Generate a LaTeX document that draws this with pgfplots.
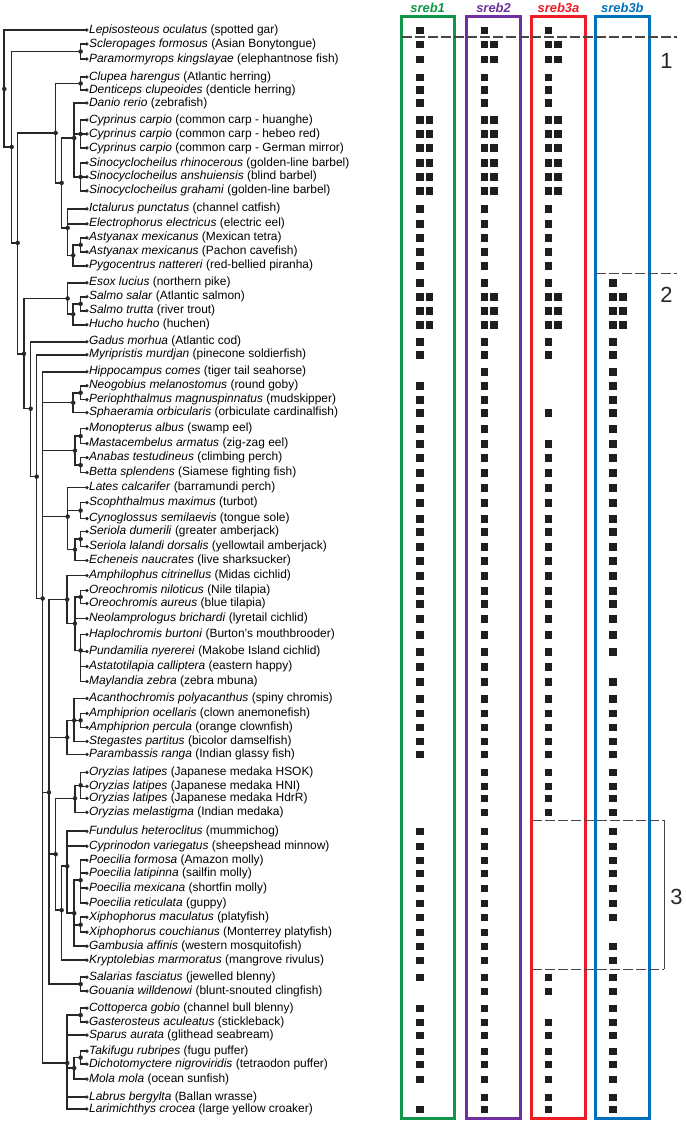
\documentclass[border=0pt]{standalone}
\usepackage{pgfplots}
\pgfplotsset{compat=1.18}
\usepackage{fontspec}
\setmainfont{Liberation Sans}
\definecolor{cg}{RGB}{16,150,72}
\definecolor{cp}{RGB}{112,48,160}
\definecolor{cr}{RGB}{237,28,36}
\definecolor{cb}{RGB}{0,114,188}
\definecolor{trc}{RGB}{40,40,40}
\definecolor{sqc}{RGB}{30,30,30}
\definecolor{dsh}{RGB}{70,70,70}
\newcommand\spx[3]{\node[anchor=west,inner sep=0pt,font=\fontsize{12}{14}\selectfont] at (axis cs:89,#1) {\textit{#2} #3};}
\begin{document}
\begin{tikzpicture}
\begin{axis}[width=685bp,height=1123bp,scale only axis,
  xmin=0,xmax=685,ymin=0,ymax=1123,y dir=reverse,hide axis,clip=false,
  tr/.style={color=trc,line width=1.6bp,line join=miter,mark=none},
  sq/.style={only marks,mark=square*,mark size=3.3bp,color=sqc},
  bx/.style={line width=3bp,line join=miter,mark=none},
  ds/.style={color=dsh,line width=1.1bp,dash pattern=on 10bp off 3bp,mark=none}]
\addplot[draw=none] coordinates {(0,0)(685,1123)};
% ---------- tree ----------
\addplot[tr] coordinates {(87,29)(4.3,29)(4.3,146)(11.7,146)};
\addplot[tr] coordinates {(80.7,50.5)(11.7,50.5)(11.7,242)(17.7,242)};
\addplot[tr] coordinates {(87,43)(80.7,43)(80.7,58)(87,58)};
\addplot[tr] coordinates {(55.7,132)(17.7,132)(17.7,353)(24,353)};
\addplot[tr] coordinates {(80.7,82.5)(55.7,82.5)(55.7,182)(61.7,182)};
\addplot[tr] coordinates {(87,76)(80.7,76)(80.7,89)(87,89)};
\addplot[tr] coordinates {(74.3,137)(61.7,137)(61.7,227)(67.7,227)};
\addplot[tr] coordinates {(87,102)(74.3,102)(74.3,176)(80.7,176)};
\addplot[tr] coordinates {(74.3,133)(80.7,133)};
\addplot[tr] coordinates {(87,119)(80.7,119)(80.7,147)(87,147)};
\addplot[tr] coordinates {(80.7,133)(87,133)};
\addplot[tr] coordinates {(87,162)(80.7,162)(80.7,190)(87,190)};
\addplot[tr] coordinates {(80.7,176)(87,176)};
\addplot[tr] coordinates {(87,208)(67.7,208)(67.7,254.5)(73.3,254.5)};
\addplot[tr] coordinates {(67.7,223)(87,223)};
\addplot[tr] coordinates {(80.7,244)(73.3,244)(73.3,265)(87,265)};
\addplot[tr] coordinates {(87,237)(80.7,237)(80.7,251)(87,251)};
\addplot[tr] coordinates {(67.7,297.7)(24,297.7)(24,408)(30.7,408)};
\addplot[tr] coordinates {(87,282)(67.7,282)(67.7,313.5)(73.3,313.5)};
\addplot[tr] coordinates {(80.7,303)(73.3,303)(73.3,324)(87,324)};
\addplot[tr] coordinates {(87,296)(80.7,296)(80.7,310)(87,310)};
\addplot[tr] coordinates {(87,341)(30.7,341)(30.7,476)(36.7,476)};
\addplot[tr] coordinates {(87,354)(36.7,354)(36.7,598)(42.7,598)};
\addplot[tr] coordinates {(87,371)(42.7,371)(42.7,1063)(67.3,1063)};
\addplot[tr] coordinates {(42.7,402)(73.3,402)};
\addplot[tr] coordinates {(42.7,450)(75,450)};
\addplot[tr] coordinates {(42.7,516)(67.7,516)};
\addplot[tr] coordinates {(42.7,792)(49,792)};
\addplot[tr] coordinates {(80.7,392)(73.3,392)(73.3,412)(87,412)};
\addplot[tr] coordinates {(87,385)(80.7,385)(80.7,399)(87,399)};
\addplot[tr] coordinates {(80.7,435.5)(75,435.5)(75,464.5)(80.7,464.5)};
\addplot[tr] coordinates {(87,428)(80.7,428)(80.7,443)(87,443)};
\addplot[tr] coordinates {(87,457)(80.7,457)(80.7,472)(87,472)};
\addplot[tr] coordinates {(87,487)(67.7,487)(67.7,549)(75,549)};
\addplot[tr] coordinates {(67.7,510)(80.7,510)};
\addplot[tr] coordinates {(87,502)(80.7,502)(80.7,518)(87,518)};
\addplot[tr] coordinates {(80.7,538.5)(75,538.5)(75,560)(87,560)};
\addplot[tr] coordinates {(87,531)(80.7,531)(80.7,546)(87,546)};
\addplot[tr] coordinates {(67.3,599)(49,599)(49,984)(80.7,984)};
\addplot[tr] coordinates {(49,737)(67.3,737)};
\addplot[tr] coordinates {(49,854)(55.7,854)};
\addplot[tr] coordinates {(87,575)(67.3,575)(67.3,623)(75,623)};
\addplot[tr] coordinates {(80.7,596.5)(75,596.5)(75,650)(80.7,650)};
\addplot[tr] coordinates {(75,618)(87,618)};
\addplot[tr] coordinates {(87,590)(80.7,590)(80.7,603)(87,603)};
\addplot[tr] coordinates {(87,634)(80.7,634)(80.7,681)(87,681)};
\addplot[tr] coordinates {(80.7,651)(87,651)};
\addplot[tr] coordinates {(80.7,666)(87,666)};
\addplot[tr] coordinates {(74.3,720)(67.3,720)(67.3,754)(87,754)};
\addplot[tr] coordinates {(87,698)(74.3,698)(74.3,741)(87,741)};
\addplot[tr] coordinates {(74.3,720)(80.7,720)};
\addplot[tr] coordinates {(87,713)(80.7,713)(80.7,727)(87,727)};
\addplot[tr] coordinates {(75,798)(55.7,798)(55.7,910)(61.7,910)};
\addplot[tr] coordinates {(80.7,785)(75,785)(75,812)(87,812)};
\addplot[tr] coordinates {(87,772)(80.7,772)(80.7,798)(87,798)};
\addplot[tr] coordinates {(80.7,786)(87,786)};
\addplot[tr] coordinates {(67.3,866)(61.7,866)(61.7,960)(87,960)};
\addplot[tr] coordinates {(87,831)(67.3,831)(67.3,913)(74.3,913)};
\addplot[tr] coordinates {(67.3,846)(87,846)};
\addplot[tr] coordinates {(80.7,880)(74.3,880)(74.3,946)(87,946)};
\addplot[tr] coordinates {(74.3,924.5)(80.7,924.5)};
\addplot[tr] coordinates {(87,860)(80.7,860)(80.7,903)(87,903)};
\addplot[tr] coordinates {(80.7,873)(87,873)};
\addplot[tr] coordinates {(80.7,888)(87,888)};
\addplot[tr] coordinates {(87,917)(80.7,917)(80.7,932)(87,932)};
\addplot[tr] coordinates {(87,977)(80.7,977)(80.7,991)(87,991)};
\addplot[tr] coordinates {(80.7,1015)(67.3,1015)(67.3,1109)(87,1109)};
\addplot[tr] coordinates {(67.3,1035)(87,1035)};
\addplot[tr] coordinates {(67.3,1068)(74.3,1068)};
\addplot[tr] coordinates {(67.3,1097)(87,1097)};
\addplot[tr] coordinates {(87,1008)(80.7,1008)(80.7,1022)(87,1022)};
\addplot[tr] coordinates {(80.7,1057.5)(74.3,1057.5)(74.3,1079)(87,1079)};
\addplot[tr] coordinates {(87,1051)(80.7,1051)(80.7,1064)(87,1064)};
% node dots
\addplot[only marks,mark=*,mark size=2bp,color=trc] coordinates {
(4.3,88)(11.7,146)(80.7,50.5)(17.7,242)(55.7,132)(24,353)(80.7,82.5)(61.7,182)
(74.3,137)(67.7,227)(80.7,133)(80.7,176)(73.3,254.5)(80.7,244)(67.7,297.7)
(73.3,313.5)(80.7,303)(30.7,408)(36.7,476)(42.7,598)(73.3,402)(80.7,392)(75,450)
(80.7,435.5)(80.7,464.5)(67.7,516)(80.7,510)(75,549)(80.7,538.5)(49,792)(67.3,599)
(75,623)(80.7,596.5)(80.7,650)(67.3,737)(74.3,720)(80.7,720)(55.7,854)(75,798)
(80.7,785)(61.7,910)(67.3,866)(74.3,913)(80.7,880)(80.7,924.5)(80.7,984)(67.3,1063)
(80.7,1015)(74.3,1068)(80.7,1057.5)};
% tip dots
\addplot[only marks,mark=*,mark size=1.5bp,color=trc] coordinates {
(87,29)(87,43)(87,58)(87,76)(87,89)(87,102)(87,119)(87,133)(87,147)(87,162)(87,176)(87,190)
(87,208)(87,223)(87,237)(87,251)(87,265)(87,282)(87,296)(87,310)(87,324)(87,341)(87,354)
(87,371)(87,385)(87,399)(87,412)(87,428)(87,443)(87,457)(87,472)(87,487)(87,502)(87,518)
(87,531)(87,546)(87,560)(87,575)(87,590)(87,603)(87,618)(87,634)(87,651)(87,666)(87,681)
(87,698)(87,713)(87,727)(87,741)(87,754)(87,772)(87,786)(87,798)(87,812)(87,831)(87,846)
(87,860)(87,873)(87,888)(87,903)(87,917)(87,932)(87,946)(87,960)(87,977)(87,991)(87,1008)
(87,1022)(87,1035)(87,1051)(87,1064)(87,1079)(87,1097)(87,1109)};
% ---------- boxes ----------
\addplot[bx,color=cg] coordinates {(428,15)(455,15)(455,1118)(402,1118)(402,15)(428,15)};
\addplot[bx,color=cp] coordinates {(494,15)(521,15)(521,1118)(467,1118)(467,15)(494,15)};
\addplot[bx,color=cr] coordinates {(559,15)(586,15)(586,1118)(532,1118)(532,15)(559,15)};
\addplot[bx,color=cb] coordinates {(623,15)(650,15)(650,1118)(596,1118)(596,15)(623,15)};
% ---------- dashed separators ----------
\addplot[ds] coordinates {(402,36)(678,36)};
\addplot[ds] coordinates {(597,273)(678,273)};
\addplot[ds] coordinates {(533,820)(665,820)};
\addplot[ds] coordinates {(533,969)(665,969)};
\addplot[color=dsh,line width=1.1bp,mark=none] coordinates {(665,820)(665,969)};
% ---------- presence squares ----------
% sreb1
\addplot[sq] coordinates {
(420,29)(420,43)(420,58)(420,76)(420,89)(420,102)(420,119)(420,133)(420,147)(420,162)(420,176)(420,190)
(420,208)(420,223)(420,237)(420,251)(420,265)(420,282)(420,296)(420,310)(420,324)(420,341)(420,354)
(420,385)(420,399)(420,412)(420,428)(420,443)(420,457)(420,472)(420,487)(420,502)(420,518)
(420,531)(420,546)(420,560)(420,575)(420,590)(420,603)(420,618)(420,634)(420,651)(420,666)(420,681)
(420,698)(420,713)(420,727)(420,741)(420,754)
(420,831)(420,846)(420,860)(420,873)(420,888)(420,903)(420,917)(420,932)(420,946)(420,960)(420,977)
(420,1008)(420,1022)(420,1035)(420,1051)(420,1064)(420,1079)(420,1109)};
\addplot[sq] coordinates {(429.5,119)(429.5,133)(429.5,147)(429.5,162)(429.5,176)(429.5,190)(429.5,296)(429.5,310)(429.5,324)};
% sreb2
\addplot[sq] coordinates {
(484.5,29)(484.5,43)(484.5,58)(484.5,76)(484.5,89)(484.5,102)(484.5,119)(484.5,133)(484.5,147)(484.5,162)(484.5,176)(484.5,190)
(484.5,208)(484.5,223)(484.5,237)(484.5,251)(484.5,265)(484.5,282)(484.5,296)(484.5,310)(484.5,324)(484.5,341)(484.5,354)
(484.5,371)(484.5,385)(484.5,399)(484.5,412)(484.5,428)(484.5,443)(484.5,457)(484.5,472)(484.5,487)(484.5,502)(484.5,518)
(484.5,531)(484.5,546)(484.5,560)(484.5,575)(484.5,590)(484.5,603)(484.5,618)(484.5,634)(484.5,651)(484.5,666)(484.5,681)
(484.5,698)(484.5,713)(484.5,727)(484.5,741)(484.5,754)(484.5,772)(484.5,786)(484.5,798)(484.5,812)
(484.5,831)(484.5,846)(484.5,860)(484.5,873)(484.5,888)(484.5,903)(484.5,917)(484.5,932)(484.5,946)(484.5,960)(484.5,977)
(484.5,991)(484.5,1008)(484.5,1022)(484.5,1035)(484.5,1051)(484.5,1064)(484.5,1079)(484.5,1097)(484.5,1109)};
\addplot[sq] coordinates {(494,43)(494,58)(494,119)(494,133)(494,147)(494,162)(494,176)(494,190)(494,296)(494,310)(494,324)};
% sreb3a
\addplot[sq] coordinates {
(548.7,29)(548.7,43)(548.7,58)(548.7,76)(548.7,89)(548.7,102)(548.7,119)(548.7,133)(548.7,147)(548.7,162)(548.7,176)(548.7,190)
(548.7,208)(548.7,223)(548.7,237)(548.7,251)(548.7,265)(548.7,282)(548.7,296)(548.7,310)(548.7,324)(548.7,341)(548.7,354)
(548.7,412)(548.7,443)(548.7,457)(548.7,472)(548.7,487)(548.7,502)(548.7,518)
(548.7,531)(548.7,546)(548.7,560)(548.7,575)(548.7,590)(548.7,603)(548.7,618)(548.7,634)(548.7,651)(548.7,666)(548.7,681)
(548.7,698)(548.7,713)(548.7,727)(548.7,741)(548.7,754)(548.7,772)(548.7,786)(548.7,798)(548.7,812)
(548.7,977)(548.7,991)(548.7,1022)(548.7,1035)(548.7,1051)(548.7,1064)(548.7,1079)(548.7,1097)(548.7,1109)};
\addplot[sq] coordinates {(558.3,43)(558.3,58)(558.3,119)(558.3,133)(558.3,147)(558.3,162)(558.3,176)(558.3,190)(558.3,296)(558.3,310)(558.3,324)};
% sreb3b
\addplot[sq] coordinates {
(613.3,282)(613.3,296)(613.3,310)(613.3,324)(613.3,341)(613.3,354)
(613.3,371)(613.3,385)(613.3,399)(613.3,412)(613.3,428)(613.3,443)(613.3,457)(613.3,472)(613.3,487)(613.3,502)(613.3,518)
(613.3,531)(613.3,546)(613.3,560)(613.3,575)(613.3,590)(613.3,603)(613.3,618)(613.3,634)(613.3,651)(613.3,681)
(613.3,698)(613.3,713)(613.3,727)(613.3,741)(613.3,754)(613.3,772)(613.3,786)(613.3,798)(613.3,812)
(613.3,831)(613.3,846)(613.3,860)(613.3,873)(613.3,888)(613.3,903)(613.3,917)(613.3,946)(613.3,960)(613.3,977)
(613.3,991)(613.3,1008)(613.3,1022)(613.3,1035)(613.3,1051)(613.3,1064)(613.3,1079)(613.3,1097)(613.3,1109)};
\addplot[sq] coordinates {(623,296)(623,310)(623,324)};
% ---------- headers and group numbers ----------
\node[font=\bfseries\itshape\fontsize{13}{14}\selectfont,text=cg] at (axis cs:428,7) {sreb1};
\node[font=\bfseries\itshape\fontsize{13}{14}\selectfont,text=cp] at (axis cs:494,7) {sreb2};
\node[font=\bfseries\itshape\fontsize{13}{14}\selectfont,text=cr] at (axis cs:559,7) {sreb3a};
\node[font=\bfseries\itshape\fontsize{13}{14}\selectfont,text=cb] at (axis cs:623,7) {sreb3b};
\node[font=\fontsize{22}{24}\selectfont,text=black!85] at (axis cs:667,60) {1};
\node[font=\fontsize{22}{24}\selectfont,text=black!85] at (axis cs:667,294) {2};
\node[font=\fontsize{22}{24}\selectfont,text=black!85] at (axis cs:677,897) {3};
% ---------- species ----------
\spx{29}{Lepisosteous oculatus}{(spotted gar)}
\spx{43}{Scleropages formosus}{(Asian Bonytongue)}
\spx{58}{Paramormyrops kingslayae}{(elephantnose fish)}
\spx{76}{Clupea harengus}{(Atlantic herring)}
\spx{89}{Denticeps clupeoides}{(denticle herring)}
\spx{102}{Danio rerio}{(zebrafish)}
\spx{119}{Cyprinus carpio}{(common carp - huanghe)}
\spx{133}{Cyprinus carpio}{(common carp - hebeo red)}
\spx{147}{Cyprinus carpio}{(common carp - German mirror)}
\spx{162}{Sinocyclocheilus rhinocerous}{(golden-line barbel)}
\spx{176}{Sinocyclocheilus anshuiensis}{(blind barbel)}
\spx{190}{Sinocyclocheilus grahami}{(golden-line barbel)}
\spx{208}{Ictalurus punctatus}{(channel catfish)}
\spx{223}{Electrophorus electricus}{(electric eel)}
\spx{237}{Astyanax mexicanus}{(Mexican tetra)}
\spx{251}{Astyanax mexicanus}{(Pachon cavefish)}
\spx{265}{Pygocentrus nattereri}{(red-bellied piranha)}
\spx{282}{Esox lucius}{(northern pike)}
\spx{296}{Salmo salar}{(Atlantic salmon)}
\spx{310}{Salmo trutta}{(river trout)}
\spx{324}{Hucho hucho}{(huchen)}
\spx{341}{Gadus morhua}{(Atlantic cod)}
\spx{354}{Myripristis murdjan}{(pinecone soldierfish)}
\spx{371}{Hippocampus comes}{(tiger tail seahorse)}
\spx{385}{Neogobius melanostomus}{(round goby)}
\spx{399}{Periophthalmus magnuspinnatus}{(mudskipper)}
\spx{412}{Sphaeramia orbicularis}{(orbiculate cardinalfish)}
\spx{428}{Monopterus albus}{(swamp eel)}
\spx{443}{Mastacembelus armatus}{(zig-zag eel)}
\spx{457}{Anabas testudineus}{(climbing perch)}
\spx{472}{Betta splendens}{(Siamese fighting fish)}
\spx{487}{Lates calcarifer}{(barramundi perch)}
\spx{502}{Scophthalmus maximus}{(turbot)}
\spx{518}{Cynoglossus semilaevis}{(tongue sole)}
\spx{531}{Seriola dumerili}{(greater amberjack)}
\spx{546}{Seriola lalandi dorsalis}{(yellowtail amberjack)}
\spx{560}{Echeneis naucrates}{(live sharksucker)}
\spx{575}{Amphilophus citrinellus}{(Midas cichlid)}
\spx{590}{Oreochromis niloticus}{(Nile tilapia)}
\spx{603}{Oreochromis aureus}{(blue tilapia)}
\spx{618}{Neolamprologus brichardi}{(lyretail cichlid)}
\spx{634}{Haplochromis burtoni}{(Burton’s mouthbrooder)}
\spx{651}{Pundamilia nyererei}{(Makobe Island cichlid)}
\spx{666}{Astatotilapia calliptera}{(eastern happy)}
\spx{681}{Maylandia zebra}{(zebra mbuna)}
\spx{698}{Acanthochromis polyacanthus}{(spiny chromis)}
\spx{713}{Amphiprion ocellaris}{(clown anemonefish)}
\spx{727}{Amphiprion percula}{(orange clownfish)}
\spx{741}{Stegastes partitus}{(bicolor damselfish)}
\spx{754}{Parambassis ranga}{(Indian glassy fish)}
\spx{772}{Oryzias latipes}{(Japanese medaka HSOK)}
\spx{786}{Oryzias latipes}{(Japanese medaka HNI)}
\spx{798}{Oryzias latipes}{(Japanese medaka HdrR)}
\spx{812}{Oryzias melastigma}{(Indian medaka)}
\spx{831}{Fundulus heteroclitus}{(mummichog)}
\spx{846}{Cyprinodon variegatus}{(sheepshead minnow)}
\spx{860}{Poecilia formosa}{(Amazon molly)}
\spx{873}{Poecilia latipinna}{(sailfin molly)}
\spx{888}{Poecilia mexicana}{(shortfin molly)}
\spx{903}{Poecilia reticulata}{(guppy)}
\spx{917}{Xiphophorus maculatus}{(platyfish)}
\spx{932}{Xiphophorus couchianus}{(Monterrey platyfish)}
\spx{946}{Gambusia affinis}{(western mosquitofish)}
\spx{960}{Kryptolebias marmoratus}{(mangrove rivulus)}
\spx{977}{Salarias fasciatus}{(jewelled blenny)}
\spx{991}{Gouania willdenowi}{(blunt-snouted clingfish)}
\spx{1008}{Cottoperca gobio}{(channel bull blenny)}
\spx{1022}{Gasterosteus aculeatus}{(stickleback)}
\spx{1035}{Sparus aurata}{(glithead seabream)}
\spx{1051}{Takifugu rubripes}{(fugu puffer)}
\spx{1064}{Dichotomyctere nigroviridis}{(tetraodon puffer)}
\spx{1079}{Mola mola}{(ocean sunfish)}
\spx{1097}{Labrus bergylta}{(Ballan wrasse)}
\spx{1109}{Larimichthys crocea}{(large yellow croaker)}
\end{axis}
\end{tikzpicture}
\end{document}
